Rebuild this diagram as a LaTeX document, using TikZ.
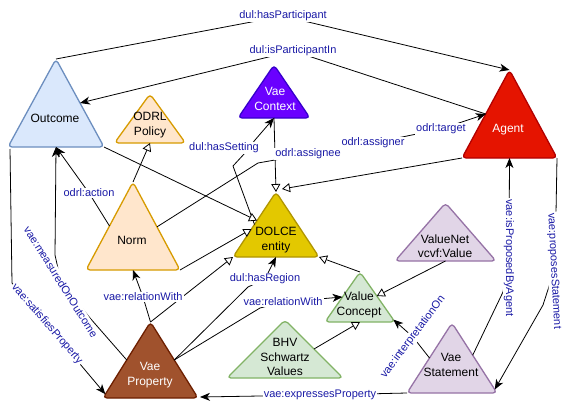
\documentclass[tikz,border=0pt]{standalone}
\usepackage{fontspec}
\setmainfont{Liberation Sans}
\usetikzlibrary{arrows.meta,calc}
\definecolor{lblue}{HTML}{1A1AA6}
\definecolor{outF}{HTML}{DAE8FC}\definecolor{outS}{HTML}{6C8EBF}
\definecolor{orF}{HTML}{FFE6CC}\definecolor{orS}{HTML}{D79B00}
\definecolor{ctxF}{HTML}{6A00FF}\definecolor{ctxS}{HTML}{3700CC}
\definecolor{agF}{HTML}{E51400}\definecolor{agS}{HTML}{B20000}
\definecolor{dolF}{HTML}{E3C800}\definecolor{dolS}{HTML}{B09500}
\definecolor{puF}{HTML}{E1D5E7}\definecolor{puS}{HTML}{9673A6}
\definecolor{grF}{HTML}{D5E8D4}\definecolor{grS}{HTML}{82B366}
\definecolor{brF}{HTML}{A0522D}\definecolor{brS}{HTML}{6D1F00}
\tikzset{
 tri/.style={line width=1.3pt, rounded corners=4pt, line join=round},
 ntext/.style={font=\fontsize{12}{14.5}\selectfont, align=center, inner sep=0pt},
 lbl/.style={font=\fontsize{11}{13}\selectfont, text=lblue, fill=white, inner sep=1.2pt},
 e/.style={line width=0.8pt, draw=black},
 arr/.style={-{Stealth[length=10pt,width=8pt,inset=3pt]}},
 oarr/.style={-{Triangle[length=8pt,width=9pt,fill=white]}},
}
\newcommand\mytri[7]{%
  \coordinate (#1-t) at (#2,#3);
  \coordinate (#1-l) at ({#2-#5},#4);
  \coordinate (#1-r) at ({#2+#5},#4);
  \coordinate (#1-b) at (#2,#4);
  \draw[tri, fill=#6, draw=#7] (#1-b) -- (#1-l) -- (#1-t) -- (#1-r) -- cycle;
}
\begin{document}
\begin{tikzpicture}[x=1pt,y=-1pt]
\fill[white] (0,0) rectangle (567,407);
\useasboundingbox (0,0) rectangle (567,407);

% triangles
\mytri{Out}{56}{59}{147}{48}{outF}{outS}
\mytri{Pol}{150}{94}{143}{35.5}{orF}{orS}
\mytri{Ctx}{274}{65}{118}{36}{ctxF}{ctxS}
\mytri{Agt}{509.5}{70}{158}{47.5}{agF}{agS}
\mytri{Nrm}{133}{182}{270}{47}{orF}{orS}
\mytri{Dol}{276}{192}{257}{43}{dolF}{dolS}
\mytri{VN}{445.5}{203}{261}{50.5}{puF}{puS}
\mytri{VC}{360}{272}{322}{35}{grF}{grS}
\mytri{BHV}{285}{320}{378}{58}{grF}{grS}
\mytri{VS}{452}{323}{393}{45}{puF}{puS}
\mytri{VP}{150.5}{322}{398}{47.5}{brF}{brS}

% node texts
\node[ntext] (Outcome) at (55,118) {Outcome};
\node[ntext] (Policy) at (150,125) {ODRL\\Policy};
\node[ntext,text=white] (Context) at (275,99) {Vae\\Context};
\node[ntext,text=white] (Agent) at (508,130) {Agent};
\node[ntext] (Norm) at (132,240) {Norm};
\node[ntext] (Dolce) at (276,240) {DOLCE\\entity};
\node[ntext] (ValueNet) at (445,246) {ValueNet\\vcvf:Value};
\node[ntext] (Concept) at (359,305) {Value\\Concept};
\node[ntext] (BHVtext) at (285,357) {BHV\\Schwartz\\Values};
\node[ntext] (Stmt) at (451,365) {Vae\\Statement};
\node[ntext,text=white] (Prop) at (150,375) {Vae\\Property};

% label positions and waypoints
\coordinate (cHP) at (283,16);
\coordinate (cIP) at (293,51);
\coordinate (cHS) at (224,148);
\coordinate (cAE) at (308,154);
\coordinate (cAR) at (373,143);
\coordinate (cTG) at (441,129);
\coordinate (cAC) at (89,193);
\coordinate (cMO) at (61,282);
\coordinate (cSP) at (47,324);
\coordinate (cRWL) at (143,297);
\coordinate (cHR) at (265,279);
\coordinate (cRWR) at (283,302);
\coordinate (cIO) at (413,337);
\coordinate (cEP) at (320,395);
\coordinate (cPA) at (509,258);
\coordinate (cPS) at (554,271);
\coordinate (w1) at (258,163);
\coordinate (w1b) at (275,160);
\coordinate (w2) at (233,166);
\coordinate (w3) at (245,153);
\coordinate (w4) at (255,140);
\coordinate (w5) at (90,318);
\coordinate (w6) at (55,255);
\coordinate (w7) at (12,283);
\coordinate (w8) at (80,364);
\coordinate (w9) at (503,292);
\coordinate (w10) at (556,213);
\coordinate (w11) at (543,305);
\coordinate (w12) at (248,287);
\coordinate (w13) at (260,308);

% connectors
\draw[e,arr] (Out-t) -- (cHP) -- (Agt-t);
\draw[e,arr] ($(Agt-t)!0.5!(Agt-l)$) -- (cIP) -- ($(Out-t)!0.5!(Out-r)$);
\draw[e,arr] ($(Nrm-t)!0.51!(Nrm-r)$) -- (w1) -- (w1b) -- (cAE) -- (cAR) -- (cTG) -- ($(Agt-t)!0.5!(Agt-l)$);
\draw[e,oarr] (Agt-l) -- ($(Dol-t)+(6,-3)$);
\draw[e,oarr] (Ctx-b) -- (Dol-t);
\draw[e,arr] ($(Dol-t)!0.5!(Dol-l)$) -- (w2) -- (w3) -- (w4) -- (Ctx-b);
\draw[e,oarr] (Out-r) -- ($(Dol-t)!0.44!(Dol-l)$);
\draw[e,oarr] (Nrm-r) -- ($(Dol-t)!0.57!(Dol-l)$);
\draw[e,oarr] (Nrm-t) -- (Pol-b);
\draw[e,arr] ($(Nrm-t)!0.5!(Nrm-l)$) -- (cAC) -- (Out-b);
\draw[e,arr] ($(VP-t)!0.5!(VP-l)$) -- (w5) -- (cMO) -- (w6) -- (Out-b);
\draw[e,arr] ($(Out-l)+(2,2)$) -- (w7) -- (w8) -- ($(VP-t)!0.95!(VP-l)$);
\draw[e,arr] ($(VS-t)!0.46!(VS-r)$) -- (w9) -- (cPA) -- (Agt-b);
\draw[e,arr] (Agt-r) -- (w10) -- (cPS) -- (w11) -- ($(VS-t)!0.95!(VS-r)$);
\draw[e,arr] ($(VS-t)!0.5!(VS-l)$) -- (cIO) -- ($(VC-t)!0.95!(VC-r)$);
\draw[e,arr] (VS-l) -- (cEP) -- ($(VP-r)+(2,-1)$);
\draw[e,arr] (VP-t) -- (cRWL) -- (Nrm-b);
\draw[e,oarr] (VP-t) -- (Dol-l);
\draw[e,arr] ($(VP-t)!0.5!(VP-r)$) -- (w12) -- (cHR) -- (Dol-b);
\draw[e,arr] ($(VP-t)!0.5!(VP-r)$) -- (w13) -- (cRWR) -- ($(VC-t)!0.5!(VC-l)$);
\draw[e,oarr] (VN-b) -- ($(VC-t)!0.48!(VC-r)$);
\draw[e,oarr] (VC-t) -- (Dol-r);
\draw[e,oarr] ($(BHV-t)!0.5!(BHV-r)$) -- (VC-b);

% labels
\node[lbl] (lHP) at (cHP) {dul:hasParticipant};
\node[lbl] (lIP) at (cIP) {dul:isParticipantIn};
\node[lbl] (lHS) at (cHS) {dul:hasSetting};
\node[lbl] (lAE) at (cAE) {odrl:assignee};
\node[lbl] (lAR) at (cAR) {odrl:assigner};
\node[lbl] (lTG) at (cTG) {odrl:target};
\node[lbl] (lAC) at (cAC) {odrl:action};
\node[lbl,rotate=-58] (lMO) at (cMO) {vae:measuredOnOutcome};
\node[lbl,rotate=-49] (lSP) at (cSP) {vae:satisfiesProperty};
\node[lbl] (lRWL) at (cRWL) {vae:relationWith};
\node[lbl] (lHR) at (cHR) {dul:hasRegion};
\node[lbl] (lRWR) at (cRWR) {vae:relationWith};
\node[lbl,rotate=53] (lIO) at (cIO) {vae:interpretationOn};
\node[lbl] (lEP) at (cEP) {vae:expressesProperty};
\node[lbl,rotate=-90] (lPA) at (cPA) {vae:isProposedByAgent};
\node[lbl,rotate=-87] (lPS) at (cPS) {vae:proposesStatement};
\end{tikzpicture}
\end{document}
